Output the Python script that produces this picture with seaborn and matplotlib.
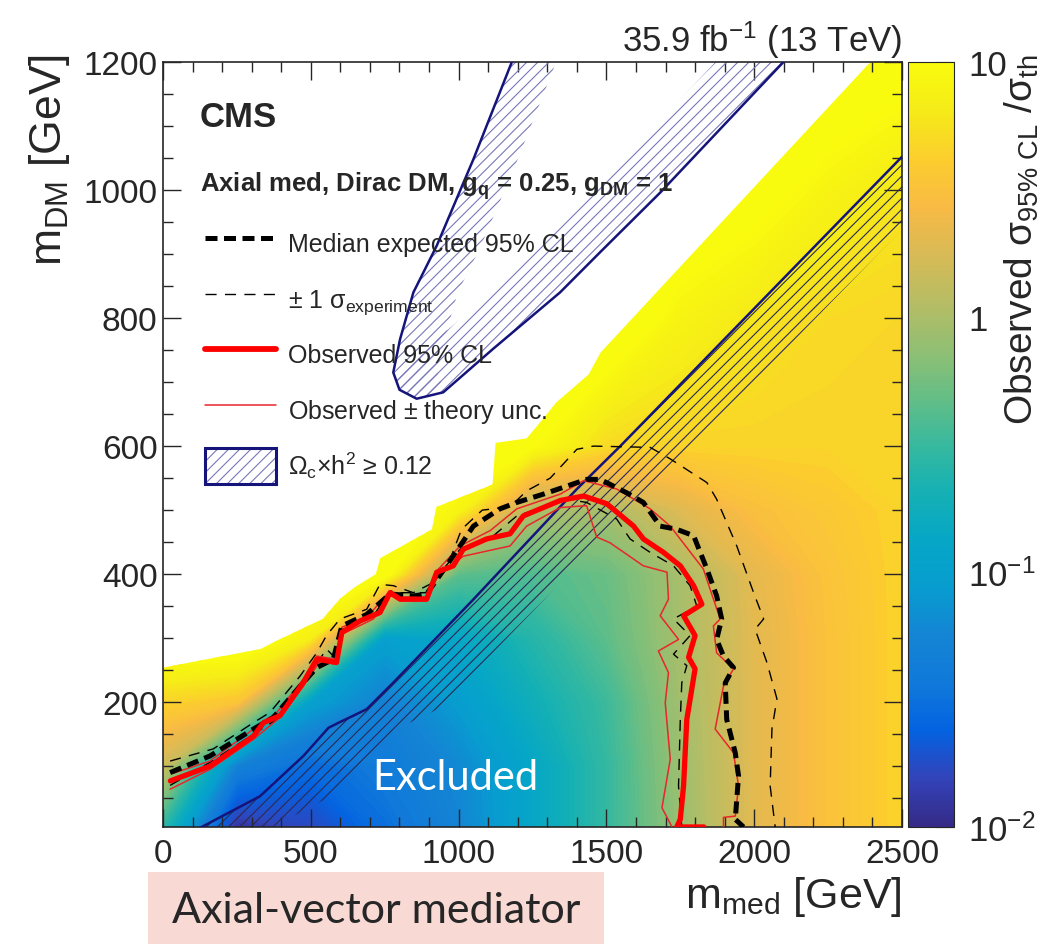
import numpy as np
import matplotlib
matplotlib.use("Agg")
import matplotlib.pyplot as plt
import matplotlib.colors as mcolors
import seaborn as sns
from matplotlib.patches import Polygon, Patch, Rectangle
from matplotlib.lines import Line2D
from matplotlib.ticker import MultipleLocator, FixedLocator
from matplotlib.legend_handler import HandlerTuple

# scan grid of observed sigma_95/sigma_th
med_grid = [0, 250, 500, 750, 1000, 1250, 1500, 1750, 2000, 2250, 2500]
dm_grid = [0, 100, 200, 300, 400, 500, 600, 800, 1000, 1200]
ratio_dm0 = [0.25, 0.011, 0.016, 0.03, 0.055, 0.13, 0.30, 0.80, 2.0, 3.2, 4.5]
ratio_dm100 = [1.5, 0.05, 0.028, 0.04, 0.06, 0.13, 0.30, 0.85, 2.0, 3.2, 4.5]
ratio_dm200 = [4.5, 3.5, 0.10, 0.05, 0.09, 0.18, 0.33, 0.90, 2.0, 3.2, 4.5]
ratio_dm300 = [15, 15, 7.0, 0.10, 0.13, 0.25, 0.45, 0.95, 2.0, 3.2, 4.5]
ratio_dm400 = [15, 15, 15, 12, 0.45, 0.40, 0.50, 0.95, 2.1, 3.3, 4.5]
ratio_dm500 = [15, 15, 15, 15, 8.0, 1.0, 0.95, 1.9, 3.0, 3.7, 4.5]
ratio_dm600 = [15, 15, 15, 15, 15, 10, 5.0, 4.5, 4.5, 4.5, 4.7]
ratio_dm800 = [15, 15, 15, 15, 15, 15, 15, 8.0, 6.0, 5.0, 4.7]
ratio_dm1000 = [15, 15, 15, 15, 15, 15, 15, 15, 12, 8.0, 6.0]
ratio_dm1200 = [15, 15, 15, 15, 15, 15, 15, 15, 15, 15, 12]

# upper edge of the scanned region
edge_med = [0, 330, 385, 540, 600, 650, 720, 735, 910, 925, 1115, 1125, 1230, 1290, 1330, 1440, 1480, 2393, 2500, 2500, 0]
edge_dm = [254, 283, 296, 330, 362, 380, 400, 425, 470, 505, 540, 605, 612, 645, 668, 712, 746, 1200, 1200, 0, 0]

# contours
obs_med = [25, 159, 306, 340, 396, 475, 520, 587, 605, 667, 734, 768, 802, 892, 926, 982, 1016, 1095, 1174, 1219,
           1344, 1423, 1501, 1592, 1625, 1693, 1750, 1795, 1823, 1761, 1800, 1778, 1800, 1772, 1761, 1750, 1738, 1830]
obs_dm = [77, 100, 147, 168, 179, 231, 267, 262, 309, 327, 340, 371, 361, 361, 403, 413, 439, 455, 463, 491,
          515, 522, 510, 475, 455, 434, 413, 382, 353, 335, 304, 270, 252, 173, 69, 17, 5, 5]

th_up_med = [35, 159, 306, 351, 385, 475, 520, 587, 605, 689, 768, 802, 892, 926, 1005, 1107, 1197, 1344, 1423,
             1535, 1648, 1716, 1828, 1862, 1885, 1862, 1873, 1930, 1896, 1868, 1930, 1947, 1936, 1896, 1896]
th_up_dm = [89, 108, 158, 173, 184, 236, 272, 267, 317, 332, 374, 364, 364, 405, 444, 468, 502, 525, 546,
            533, 502, 475, 408, 361, 330, 319, 277, 252, 225, 158, 121, 69, 22, 20, 5]

th_dn_med = [24, 159, 306, 396, 475, 531, 587, 605, 712, 768, 802, 892, 926, 1016, 1174, 1230, 1344, 1433, 1467,
             1512, 1625, 1705, 1710, 1682, 1744, 1676, 1710, 1699, 1716, 1688, 1722]
th_dn_dm = [64, 95, 142, 176, 225, 264, 259, 306, 330, 369, 358, 358, 397, 428, 444, 475, 504, 507, 458,
            449, 413, 403, 361, 335, 298, 280, 246, 199, 111, 35, 5]

exp_med = [24, 159, 306, 373, 464, 520, 576, 605, 689, 768, 847, 892, 959, 1005, 1050, 1140, 1197, 1287, 1433,
           1479, 1569, 1625, 1682, 1738, 1795, 1840, 1873, 1890, 1873, 1896, 1930, 1902, 1907, 1936, 1947, 1936, 1964]
exp_dm = [90, 116, 158, 176, 225, 254, 267, 319, 337, 369, 366, 369, 413, 444, 475, 502, 512, 525, 548,
          548, 527, 512, 475, 470, 460, 408, 366, 330, 298, 272, 254, 230, 173, 121, 85, 17, 5]

exp_up_med = [24, 170, 306, 362, 464, 520, 553, 599, 689, 734, 779, 847, 915, 971, 1010, 1080, 1174, 1230, 1310,
              1400, 1456, 1648, 1716, 1840, 1873, 1941, 1998, 2032, 2003, 2043, 2077, 2060, 2054, 2071]
exp_up_dm = [108, 127, 168, 184, 241, 277, 304, 330, 345, 384, 382, 371, 387, 423, 470, 500, 505, 530, 550,
             595, 600, 598, 580, 543, 517, 444, 371, 330, 314, 262, 205, 158, 69, 5]

exp_dn_med = [24, 159, 306, 385, 475, 553, 587, 610, 712, 768, 802, 892, 948, 1005, 1118, 1197, 1366, 1433, 1535,
              1580, 1648, 1727, 1783, 1806, 1727, 1783, 1727, 1772, 1755, 1750, 1744, 1755]
exp_dn_dm = [70, 106, 150, 173, 228, 283, 267, 314, 335, 374, 371, 371, 408, 439, 460, 491, 517, 512, 486,
             455, 434, 413, 382, 350, 330, 304, 275, 257, 230, 173, 69, 5]

# relic density contours
relic_lo_med = [110, 328, 475, 560, 599, 640, 689, 780, 1051, 1400, 1547, 2500]
relic_lo_dm = [0, 53, 116, 160, 169, 178, 189, 231, 361, 533, 600, 1052]
relic_up_med = [1180, 1050, 926, 847, 802, 779, 800, 858, 948, 1117, 1343, 1479, 1682, 2099]
relic_up_dm = [1200, 1048, 913, 840, 767, 715, 688, 674, 684, 752, 840, 903, 996, 1200]

# parula-like colormap
parula = mcolors.LinearSegmentedColormap.from_list("parula", [
    (0.2081, 0.1663, 0.5292), (0.1959, 0.2645, 0.7279), (0.0117, 0.3875, 0.8820),
    (0.0629, 0.4737, 0.8554), (0.0793, 0.5200, 0.8312), (0.0265, 0.6137, 0.8135),
    (0.0228, 0.6535, 0.7768), (0.0843, 0.6928, 0.7062), (0.2178, 0.7250, 0.6193),
    (0.3953, 0.7459, 0.5244), (0.5709, 0.7485, 0.4494), (0.7184, 0.7411, 0.3905),
    (0.8507, 0.7299, 0.3360), (0.9739, 0.7314, 0.2666), (0.9880, 0.8066, 0.1794),
    (0.9598, 0.9218, 0.0948), (0.9763, 0.9831, 0.0538)])

sns.set_style("ticks")
plt.rcParams["font.family"] = ["Liberation Sans", "DejaVu Sans"]
plt.rcParams["mathtext.fontset"] = "custom"
plt.rcParams["mathtext.rm"] = "Liberation Sans"
plt.rcParams["mathtext.it"] = "Liberation Sans:italic"
plt.rcParams["mathtext.bf"] = "Liberation Sans:bold"
plt.rcParams["mathtext.default"] = "regular"
plt.rcParams["hatch.linewidth"] = 0.8

fig = plt.figure(figsize=(10.55, 9.45), dpi=100)
ax = fig.add_axes([163 / 1055, 1 - 828 / 945, 739 / 1055, 765 / 945])
cax = fig.add_axes([908 / 1055, 1 - 828 / 945, 46 / 1055, 765 / 945])

# colour map of the observed limit
ratio = np.array([ratio_dm0, ratio_dm100, ratio_dm200, ratio_dm300, ratio_dm400,
                  ratio_dm500, ratio_dm600, ratio_dm800, ratio_dm1000, ratio_dm1200])
mx, my = np.meshgrid(med_grid, dm_grid)
cs = ax.contourf(mx, my, np.log10(ratio), levels=np.linspace(-2, 1, 121), cmap=parula,
                 norm=mcolors.Normalize(-2, 1), extend="both", zorder=0)
edge = Polygon(np.column_stack([edge_med, edge_dm]), closed=True, transform=ax.transData)
cs.set_clip_path(edge)

navy = "#14147a"

# relic density, lower branch with its hatched band
lo = np.column_stack([relic_lo_med, relic_lo_dm]).astype(float)
band_lo = Polygon(np.vstack([lo, (lo + [240, 0])[::-1]]), closed=True, fill=False,
                  hatch="///", edgecolor="#2a2a55", lw=0, zorder=2)
ax.add_patch(band_lo)

# relic density, upper U-shaped region
up = np.column_stack([relic_up_med, relic_up_dm]).astype(float)
tip = int(np.argmin(relic_up_dm))
u_shape = Polygon(up, closed=True, transform=ax.transData)
for branch, shift in [(up[:tip + 1], 150), (up[tip:], -230)]:
    band = Polygon(np.vstack([branch, (branch + [shift, 0])[::-1]]), closed=True, fill=False,
                   hatch="///", edgecolor="#7878b8", lw=0, zorder=2)
    ax.add_patch(band)
    band.set_clip_path(u_shape)


def curve(xs, ys, **kw):
    sns.lineplot(x=xs, y=ys, sort=False, estimator=None, legend=False, ax=ax, **kw)


curve(relic_lo_med, relic_lo_dm, color=navy, lw=1.8, zorder=3)
curve(relic_up_med, relic_up_dm, color=navy, lw=1.8, zorder=3)

curve(exp_up_med, exp_up_dm, color="black", lw=1.0, linestyle=(0, (8, 6)), zorder=4)
curve(exp_dn_med, exp_dn_dm, color="black", lw=1.0, linestyle=(0, (8, 6)), zorder=4)
curve(th_up_med, th_up_dm, color="#e8262b", lw=1.1, zorder=4)
curve(th_dn_med, th_dn_dm, color="#e8262b", lw=1.1, zorder=4)
curve(exp_med, exp_dm, color="black", lw=3.6, linestyle=(0, (2.4, 1.3)), zorder=5)
curve(obs_med, obs_dm, color="#ff0000", lw=3.8, zorder=6)

ax.set_xlim(0, 2500)
ax.set_ylim(5, 1200)
ax.xaxis.set_major_locator(MultipleLocator(500))
ax.xaxis.set_minor_locator(MultipleLocator(100))
ax.yaxis.set_major_locator(FixedLocator([200, 400, 600, 800, 1000, 1200]))
ax.yaxis.set_minor_locator(MultipleLocator(50))
ax.tick_params(which="both", direction="in", top=True, right=True, width=1.0, labelsize=24)
ax.tick_params(which="major", length=13)
ax.tick_params(which="minor", length=7)
ax.tick_params(axis="x", pad=8)
ax.tick_params(axis="y", pad=4)
for s in ax.spines.values():
    s.set_linewidth(1.2)

ax.set_xlabel(r"m$_{\mathrm{med}}$ [GeV]", fontsize=31, loc="right")
ax.xaxis.set_label_coords(1.0, -0.062)
ax.set_ylabel(r"m$_{\mathrm{DM}}$ [GeV]", fontsize=32, loc="top")
ax.yaxis.set_label_coords(-0.123, 1.012)
ax.set_title(r"35.9 fb$^{-1}$ (13 TeV)", loc="right", fontsize=25, pad=8)

ax.text(0.05, 0.929, "CMS", fontsize=25, fontweight="bold", va="center", transform=ax.transAxes)
ax.text(0.05, 0.839, r"Axial med, Dirac DM, g$_{\mathbf{q}}$ = 0.25, g$_{\mathbf{DM}}$ = 1",
        fontsize=18.5, fontweight="bold", va="center", transform=ax.transAxes)

handles = [
    Line2D([], [], color="black", lw=3.6, linestyle=(0, (2.4, 1.3))),
    Line2D([], [], color="black", lw=1.0, linestyle=(0, (8, 6))),
    Line2D([], [], color="#ff0000", lw=4.2),
    Line2D([], [], color="#e8262b", lw=1.1),
    (Patch(facecolor="white", edgecolor="#7878b8", hatch="///", lw=0),
     Patch(facecolor="none", edgecolor=navy, lw=2.2)),
]
labels = ["Median expected 95% CL", r"$\pm$ 1 $\sigma_{\mathrm{experiment}}$",
          "Observed 95% CL", r"Observed $\pm$ theory unc.", r"$\Omega_{c}{\times}h^{2}$ ≥ 0.12"]
ax.legend(handles, labels, loc="upper left", bbox_to_anchor=(0.057, 0.787), frameon=False,
          fontsize=18, handlelength=2.85, handleheight=1.85, labelspacing=0.78,
          handletextpad=0.45, borderpad=0, borderaxespad=0,
          handler_map={tuple: HandlerTuple(ndivide=1, pad=0)})

ax.text(0.395, 0.065, "Excluded", color="white", fontsize=30, family=["Lato", "DejaVu Sans"],
        ha="center", va="center", transform=ax.transAxes, zorder=7)

# colour bar
sm = plt.cm.ScalarMappable(norm=mcolors.LogNorm(1e-2, 10), cmap=parula)
cbar = fig.colorbar(sm, cax=cax)
cbar.set_ticks([0.01, 0.1, 1, 10])
cbar.set_ticklabels([r"10$^{-2}$", r"10$^{-1}$", "1", "10"])
cbar.outline.set_linewidth(0.8)
cax.tick_params(which="both", direction="in", labelsize=25, pad=10)
cax.tick_params(which="major", length=14)
cax.tick_params(which="minor", length=7)
cax.text(2.48, 1.0105, r"Observed σ$_{\mathrm{95\%\ CL}}$ /σ$_{\mathrm{th}}$", rotation=90,
         fontsize=28, ha="center", va="top", transform=cax.transAxes)

# slide annotation below the plot
fig.add_artist(Rectangle((148 / 1055, 0), 456 / 1055, 72 / 945, transform=fig.transFigure,
                         facecolor="#f8d9d4", edgecolor="none"))
fig.text(376 / 1055, 1 - 911 / 945, "Axial-vector mediator", fontsize=31,
         family=["Lato", "DejaVu Sans"], ha="center", va="center")

fig.savefig("out.png", dpi=100)
